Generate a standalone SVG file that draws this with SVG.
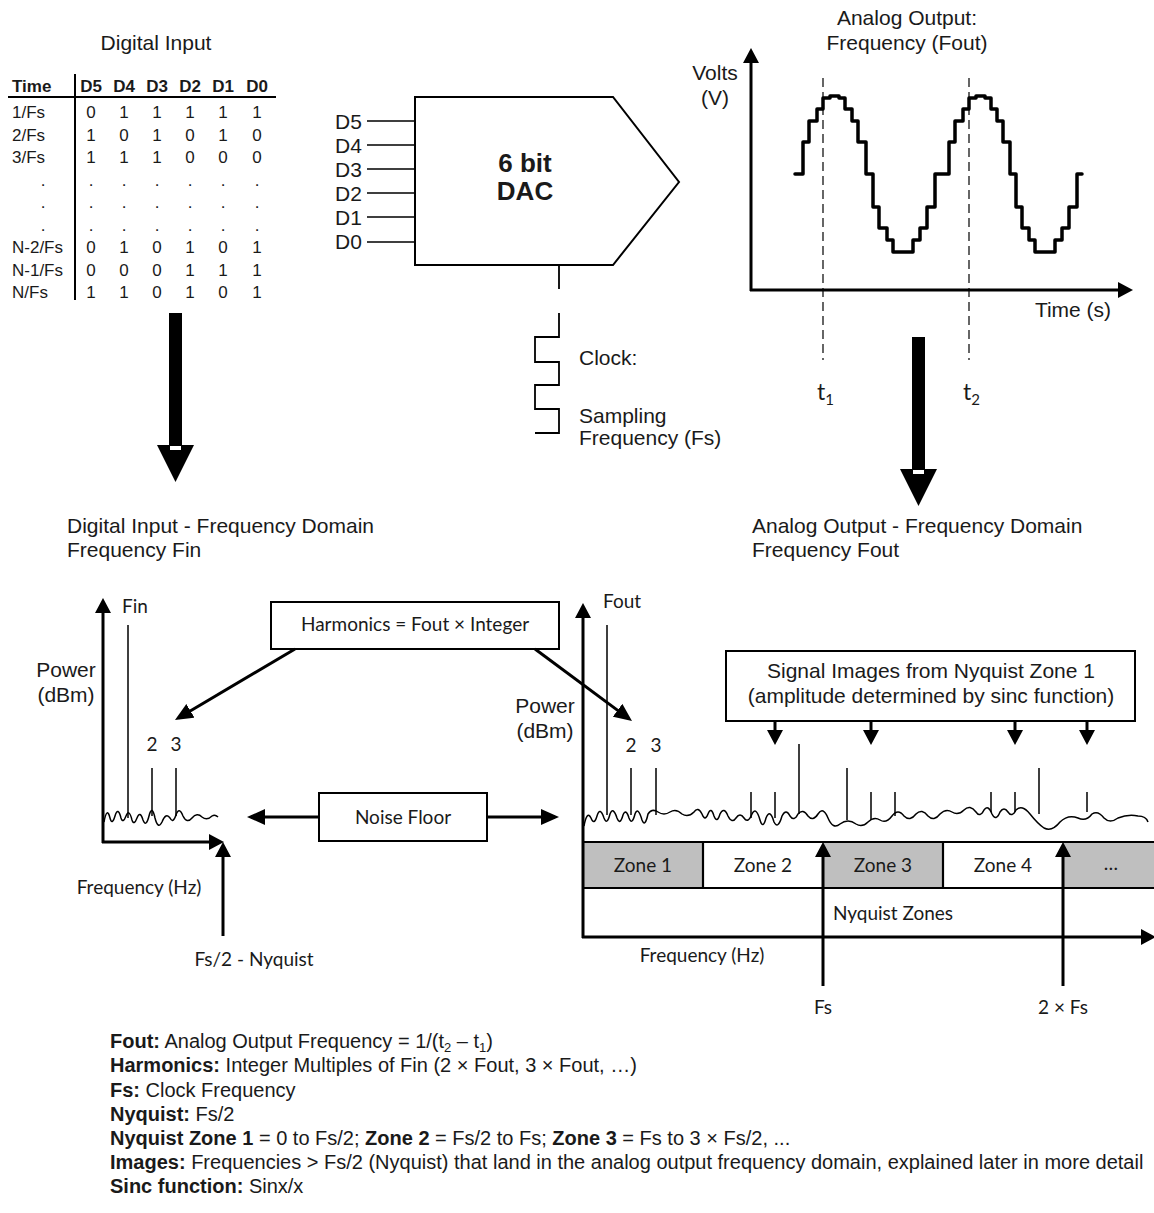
<svg xmlns="http://www.w3.org/2000/svg" width="1154" height="1213" viewBox="0 0 1154 1213">
<defs>
<style>
.t{font-family:"Liberation Sans",Arial,sans-serif;fill:#1a1a1a}
.c{font-family:Lato,"Open Sans",sans-serif;fill:#1a1a1a}
.b{font-weight:bold}
.ln{stroke:#000;fill:none}
.box{fill:#fff;stroke:#000;stroke-width:2}
.arr{stroke:#000;stroke-width:3;fill:none;marker-end:url(#ax)}
.arr2{stroke:#000;stroke-width:3;fill:none;marker-end:url(#ah)}
.spec{stroke:#000;stroke-width:1.5;fill:none}
.noise{stroke:#000;stroke-width:1.5;fill:none;stroke-linejoin:round}
</style>
<marker id="ax" markerUnits="userSpaceOnUse" viewBox="0 0 15 16" markerWidth="15" markerHeight="16" refX="11" refY="8" orient="auto"><path d="M0,0 L15,8 L0,16 z" fill="#000"/></marker>
<marker id="ah" markerUnits="userSpaceOnUse" viewBox="0 0 18 16" markerWidth="18" markerHeight="16" refX="14" refY="8" orient="auto"><path d="M0,0 L18,8 L0,16 z" fill="#000"/></marker>
<g id="bigArrow">
<rect x="-6.5" y="0" width="13" height="133" fill="#000"/>
<polygon points="-18.5,132 18.5,132 0,169" fill="#000"/>
<rect x="-5.5" y="133" width="11" height="4" fill="#fff"/>
</g>
</defs>
<rect width="1154" height="1213" fill="#fff"/>

<g id="digital-input-table" class="t" font-size="17">
<text x="156" y="50" font-size="21" text-anchor="middle">Digital Input</text>
<text x="12" y="92" class="b">Time</text>
<text y="92" class="b" text-anchor="middle"><tspan x="91">D5</tspan><tspan x="124">D4</tspan><tspan x="157">D3</tspan><tspan x="190">D2</tspan><tspan x="223">D1</tspan><tspan x="257">D0</tspan></text>
<path class="ln" stroke-width="2" d="M8,97 H276 M75,74 V300"/>
<text x="12" y="118">1/Fs</text>
<text x="12" y="140.5">2/Fs</text>
<text x="12" y="163">3/Fs</text>
<text x="43" y="185.5" text-anchor="middle">.</text>
<text x="43" y="208" text-anchor="middle">.</text>
<text x="43" y="230.5" text-anchor="middle">.</text>
<text x="12" y="253">N-2/Fs</text>
<text x="12" y="275.5">N-1/Fs</text>
<text x="12" y="298">N/Fs</text>
<g text-anchor="middle">
<text y="118"><tspan x="91">0</tspan><tspan x="124">1</tspan><tspan x="157">1</tspan><tspan x="190">1</tspan><tspan x="223">1</tspan><tspan x="257">1</tspan></text>
<text y="140.5"><tspan x="91">1</tspan><tspan x="124">0</tspan><tspan x="157">1</tspan><tspan x="190">0</tspan><tspan x="223">1</tspan><tspan x="257">0</tspan></text>
<text y="163"><tspan x="91">1</tspan><tspan x="124">1</tspan><tspan x="157">1</tspan><tspan x="190">0</tspan><tspan x="223">0</tspan><tspan x="257">0</tspan></text>
<text y="185.5"><tspan x="91">.</tspan><tspan x="124">.</tspan><tspan x="157">.</tspan><tspan x="190">.</tspan><tspan x="223">.</tspan><tspan x="257">.</tspan></text>
<text y="208"><tspan x="91">.</tspan><tspan x="124">.</tspan><tspan x="157">.</tspan><tspan x="190">.</tspan><tspan x="223">.</tspan><tspan x="257">.</tspan></text>
<text y="230.5"><tspan x="91">.</tspan><tspan x="124">.</tspan><tspan x="157">.</tspan><tspan x="190">.</tspan><tspan x="223">.</tspan><tspan x="257">.</tspan></text>
<text y="253"><tspan x="91">0</tspan><tspan x="124">1</tspan><tspan x="157">0</tspan><tspan x="190">1</tspan><tspan x="223">0</tspan><tspan x="257">1</tspan></text>
<text y="275.5"><tspan x="91">0</tspan><tspan x="124">0</tspan><tspan x="157">0</tspan><tspan x="190">1</tspan><tspan x="223">1</tspan><tspan x="257">1</tspan></text>
<text y="298"><tspan x="91">1</tspan><tspan x="124">1</tspan><tspan x="157">0</tspan><tspan x="190">1</tspan><tspan x="223">0</tspan><tspan x="257">1</tspan></text>
</g>
</g>

<g id="dac" class="t" font-size="21">
<polygon points="415,97 613,97 679,182 613,265 415,265" fill="#fff" stroke="#000" stroke-width="2"/>
<path class="ln" stroke-width="1.6" d="M367,121 H415 M367,145 H415 M367,169 H415 M367,193 H415 M367,217 H415 M367,242 H415"/>
<text x="335" y="128.5">D5</text>
<text x="335" y="152.5">D4</text>
<text x="335" y="176.5">D3</text>
<text x="335" y="200.5">D2</text>
<text x="335" y="224.5">D1</text>
<text x="335" y="249">D0</text>
<text x="525" y="172" class="b" font-size="26" text-anchor="middle">6 bit</text>
<text x="525" y="200" class="b" font-size="26" text-anchor="middle">DAC</text>
</g>

<g id="clock" class="t" font-size="21">
<path class="ln" stroke-width="1.8" d="M559,265 V289 M559,313 V337 H535 V362 H559 V385 H535 V409 H559 V433 H535"/>
<text x="579" y="365">Clock:</text>
<text x="579" y="423">Sampling</text>
<text x="579" y="445">Frequency (Fs)</text>
</g>

<g id="analog-output-time" class="t" font-size="21">
<text x="907" y="25" text-anchor="middle">Analog Output:</text>
<text x="907" y="50" text-anchor="middle">Frequency (Fout)</text>
<text x="715" y="80" text-anchor="middle">Volts</text>
<text x="715" y="105" text-anchor="middle">(V)</text>
<text x="1073" y="317" text-anchor="middle">Time (s)</text>
<line class="arr" x1="751" y1="291" x2="751" y2="52"/>
<line class="arr" x1="750" y1="290" x2="1129" y2="290"/>
<path class="ln" stroke-width="1.2" stroke-dasharray="9 5" d="M823,78 V360 M969,78 V360"/>
<path class="ln" stroke-width="3.5" stroke-linejoin="round" stroke-linecap="round" d="M795,174 H803 V142 H809 V121 H817 V109 H823 V98 H830 V96 H839 V98 H845 V109 H852 V121 H858 V142 H866 V174 H873 V207 H879 V228 H887 V240 H893 V252 H913 V240 H920 V228 H927 V207 H935 V174 H949 V142 H955 V121 H963 V109 H969 V98 H976 V96 H985 V98 H991 V109 H997 V121 H1003 V142 H1010 V174 H1016 V207 H1022 V228 H1029 V240 H1035 V252 H1055 V240 H1062 V228 H1069 V207 H1077 V174 H1082"/>
<text class="c" x="817" y="400" font-size="23">t<tspan font-size="15" dy="5">1</tspan></text>
<text class="c" x="963" y="400" font-size="23">t<tspan font-size="15" dy="5">2</tspan></text>
</g>

<g id="freq-titles" class="t" font-size="21">
<text x="67" y="533">Digital Input - Frequency Domain</text>
<text x="67" y="557">Frequency Fin</text>
<text x="752" y="533">Analog Output - Frequency Domain</text>
<text x="752" y="557">Frequency Fout</text>
</g>

<g id="digital-spectrum">
<text class="t" x="66" y="677" font-size="21" text-anchor="middle">Power</text>
<text class="t" x="66" y="702" font-size="21" text-anchor="middle">(dBm)</text>
<line class="arr" x1="103" y1="843" x2="103" y2="602"/>
<line class="arr" x1="102" y1="842" x2="220" y2="842"/>
<text class="c" x="122" y="613" font-size="19">Fin</text>
<text class="c" x="152" y="751" font-size="19" text-anchor="middle">2</text>
<text class="c" x="176" y="751" font-size="19" text-anchor="middle">3</text>
<path class="spec" d="M128,625 V818 M152,768 V816 M176,768 V816"/>
<path class="noise" d="M104,822 Q107,806 110,818 Q112,826 115,816 Q118,806 121,818 Q123,824 126,816 Q129,808 132,820 Q134,826 137,818 Q140,810 143,820 Q146,828 149,816 Q152,804 155,818 Q158,830 162,822 Q166,812 170,818 Q173,824 176,815 Q179,806 183,816 Q187,824 192,818 Q197,812 202,817 Q207,821 212,816 Q215,814 218,817"/>
<text class="c" x="139" y="894" font-size="19" text-anchor="middle">Frequency (Hz)</text>
<text class="c" x="254" y="966" font-size="19" text-anchor="middle">Fs/2 - Nyquist</text>
</g>

<g id="harmonics-box">
<rect class="box" x="271" y="602" width="288" height="47"/>
<text class="c" x="415" y="631" font-size="19" text-anchor="middle">Harmonics = Fout × Integer</text>
</g>

<g id="noise-floor-box">
<rect class="box" x="319" y="793" width="168" height="48"/>
<text class="c" x="403" y="824" font-size="19" text-anchor="middle">Noise Floor</text>
</g>

<g id="signal-images-box">
<rect class="box" x="726" y="651" width="409" height="70"/>
<text class="t" x="931" y="678" font-size="21" text-anchor="middle">Signal Images from Nyquist Zone 1</text>
<text class="t" x="931" y="703" font-size="21" text-anchor="middle">(amplitude determined by sinc function)</text>
</g>

<g id="analog-spectrum">
<text class="t" x="545" y="713" font-size="21" text-anchor="middle">Power</text>
<text class="t" x="545" y="738" font-size="21" text-anchor="middle">(dBm)</text>
<rect x="583" y="842" width="120" height="46" fill="#bfbfbf"/>
<rect x="823" y="842" width="120" height="46" fill="#bfbfbf"/>
<rect x="1063" y="842" width="93" height="46" fill="#bfbfbf"/>
<path class="ln" stroke-width="2.2" d="M583,842 H1156 M583,888 H1156 M703,842 V888 M943,842 V888"/>
<line class="arr" x1="583" y1="938" x2="583" y2="607"/>
<line class="arr" x1="582" y1="937" x2="1152" y2="937"/>
<text class="c" x="603" y="608" font-size="19">Fout</text>
<text class="c" x="631" y="752" font-size="19" text-anchor="middle">2</text>
<text class="c" x="656" y="752" font-size="19" text-anchor="middle">3</text>
<path class="spec" d="M607,625 V815 M631,768 V815 M656,768 V815 M751,792 V818 M775,792 V818 M799,744 V814 M847,768 V820 M871,792 V820 M895,792 V816 M991,792 V812 M1015,792 V812 M1039,768 V814 M1087,792 V812"/>
<path class="noise" d="M584,826 Q587,810 591,818 Q594,826 597,816 Q600,806 604,818 Q607,826 610,814 Q613,806 617,818 Q620,826 623,815 Q626,808 629,818 Q632,826 635,814 Q638,806 642,820 Q645,828 648,814 Q652,808 658,812 Q664,816 670,812 Q676,808 682,814 Q688,818 694,812 Q698,806 702,814 Q705,822 708,814 Q711,806 714,816 Q717,824 720,814 Q724,806 728,816 Q732,824 736,818 Q740,812 744,818 Q748,824 752,814 Q756,806 760,820 Q763,830 766,818 Q770,808 774,822 Q778,830 782,816 Q786,808 790,816 Q794,822 798,814 Q803,808 808,816 Q813,822 818,814 Q823,806 828,818 Q833,830 840,824 Q848,818 856,824 Q862,828 868,822 Q874,816 880,820 Q886,824 892,816 Q898,808 904,816 Q910,822 916,814 Q922,808 928,816 Q934,822 940,814 Q946,808 952,812 Q958,816 964,810 Q970,804 976,812 Q980,818 984,810 Q988,804 992,814 Q996,822 1000,812 Q1004,806 1008,812 Q1012,818 1016,810 Q1022,804 1030,814 Q1038,824 1044,828 Q1052,832 1060,822 Q1068,814 1078,818 Q1086,822 1092,814 Q1098,810 1104,818 Q1110,824 1118,818 Q1128,814 1138,816 Q1146,816 1148,822"/>
<g class="c" font-size="19" text-anchor="middle">
<text x="643" y="872">Zone 1</text>
<text x="763" y="872">Zone 2</text>
<text x="883" y="872">Zone 3</text>
<text x="1003" y="872">Zone 4</text>
<text x="1111" y="870">…</text>
<text x="893" y="920">Nyquist Zones</text>
<text x="702" y="962">Frequency (Hz)</text>
<text x="823" y="1014">Fs</text>
<text x="1063" y="1014">2 × Fs</text>
</g>
</g>

<g id="connectors">
<use href="#bigArrow" transform="translate(175.5,313)"/>
<use href="#bigArrow" transform="translate(918.5,337)"/>
<line class="arr" x1="223" y1="936" x2="223" y2="846"/>
<line class="arr" x1="823" y1="986" x2="823" y2="846"/>
<line class="arr" x1="1063" y1="986" x2="1063" y2="846"/>
<line class="arr2" x1="295" y1="649" x2="178.4" y2="718"/>
<line class="arr2" x1="535" y1="649" x2="628.8" y2="718.6"/>
<line class="arr2" x1="319" y1="817" x2="251" y2="817"/>
<line class="arr2" x1="487" y1="817" x2="555" y2="817"/>
<line class="arr" x1="775" y1="721" x2="775" y2="741"/>
<line class="arr" x1="871" y1="721" x2="871" y2="741"/>
<line class="arr" x1="1015" y1="721" x2="1015" y2="741"/>
<line class="arr" x1="1087" y1="721" x2="1087" y2="741"/>
</g>

<g id="legend" class="t" font-size="20">
<text x="110" y="1048"><tspan class="b">Fout:</tspan> Analog Output Frequency = 1/(t<tspan font-size="13" dy="4">2</tspan><tspan dy="-4"> – t</tspan><tspan font-size="13" dy="4">1</tspan><tspan dy="-4">)</tspan></text>
<text x="110" y="1072"><tspan class="b">Harmonics:</tspan> Integer Multiples of Fin (2 × Fout, 3 × Fout, …)</text>
<text x="110" y="1097"><tspan class="b">Fs:</tspan> Clock Frequency</text>
<text x="110" y="1121"><tspan class="b">Nyquist:</tspan> Fs/2</text>
<text x="110" y="1145"><tspan class="b">Nyquist Zone 1</tspan> = 0 to Fs/2; <tspan class="b">Zone 2</tspan> = Fs/2 to Fs; <tspan class="b">Zone 3</tspan> = Fs to 3 × Fs/2, ...</text>
<text x="110" y="1169"><tspan class="b">Images:</tspan> Frequencies &gt; Fs/2 (Nyquist) that land in the analog output frequency domain, explained later in more detail</text>
<text x="110" y="1193"><tspan class="b">Sinc function:</tspan> Sinx/x</text>
</g>
</svg>
